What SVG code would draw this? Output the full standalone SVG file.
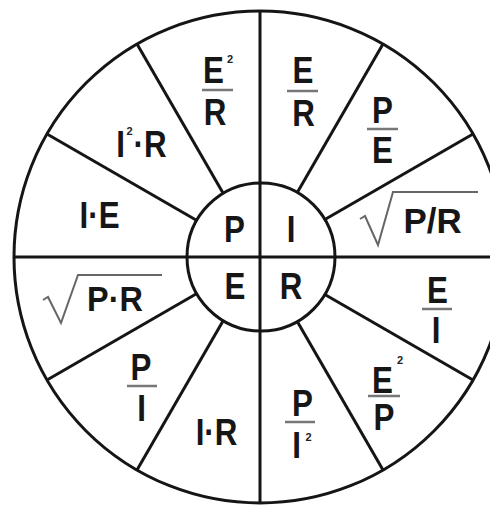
<svg xmlns="http://www.w3.org/2000/svg" width="490" height="506" viewBox="0 0 490 506">
<style>
.ln{stroke:#151515;stroke-width:3;fill:none}
.t{font-family:"Liberation Sans",Arial,sans-serif;font-weight:bold;font-size:36px;fill:#161616;text-anchor:middle}
.s{font-family:"Liberation Sans",Arial,sans-serif;font-weight:bold;font-size:11px;fill:#222;text-anchor:middle}
.bar{stroke:#777;stroke-width:2.5}
.rad{stroke:#666;stroke-width:2;fill:none}
</style>
<rect width="490" height="506" fill="#fff"/>
<g id="connectors">
<circle class="ln" cx="260" cy="257" r="246"/>
<circle class="ln" cx="261" cy="257" r="74"/>
<line class="ln" x1="260" y1="11" x2="260" y2="503"/>
<line class="ln" x1="14" y1="257" x2="490" y2="257"/>
<line class="ln" x1="297" y1="193" x2="383" y2="44"/>
<line class="ln" x1="324" y1="220" x2="473" y2="134"/>
<line class="ln" x1="324" y1="294" x2="473" y2="380"/>
<line class="ln" x1="297" y1="321" x2="383" y2="470"/>
<line class="ln" x1="223" y1="321" x2="137" y2="470"/>
<line class="ln" x1="196" y1="294" x2="47" y2="380"/>
<line class="ln" x1="196" y1="220" x2="47" y2="134"/>
<line class="ln" x1="223" y1="193" x2="137" y2="44"/>
</g>
<g id="center-P"><text class="t" transform="translate(234.5,242) scale(.87,1)">P</text></g>
<g id="center-I"><text class="t" transform="translate(291,242) scale(.87,1)">I</text></g>
<g id="center-E"><text class="t" transform="translate(235,299) scale(.87,1)">E</text></g>
<g id="center-R"><text class="t" transform="translate(291,299) scale(.87,1)">R</text></g>
<g id="E2-over-R">
<text class="t" transform="translate(213.5,83) scale(.87,1)">E</text>
<text class="s" x="230" y="63">2</text>
<line class="bar" x1="202" y1="90" x2="233" y2="90"/>
<text class="t" transform="translate(215,125) scale(.87,1)">R</text>
</g>
<g id="I2-R">
<text class="t" transform="translate(120.5,157) scale(.87,1)">I</text>
<text class="s" x="129.5" y="135">2</text>
<text class="t" transform="translate(150,157) scale(.87,1)">·R</text>
</g>
<g id="I-E"><text class="t" transform="translate(99.5,228) scale(.87,1)">I·E</text></g>
<g id="E-over-R">
<text class="t" transform="translate(303,83) scale(.87,1)">E</text>
<line class="bar" x1="287" y1="91" x2="318" y2="91"/>
<text class="t" transform="translate(303.5,126) scale(.87,1)">R</text>
</g>
<g id="P-over-E">
<text class="t" transform="translate(382.5,123) scale(.87,1)">P</text>
<line class="bar" x1="367" y1="129" x2="398" y2="129"/>
<text class="t" transform="translate(382.5,163) scale(.87,1)">E</text>
</g>
<g id="sqrt-P-R">
<polyline class="rad" points="360,219 365,216 378,245 393,192 478,192"/>
<text class="t" transform="translate(432.5,233) scale(.97,1)">P/R</text>
</g>
<g id="sqrt-PR">
<polyline class="rad" points="43,300 48,297 61,323 78,275 162,275"/>
<text class="t" transform="translate(115,311) scale(.9,1)">P·R</text>
</g>
<g id="P-over-I">
<text class="t" transform="translate(141,380) scale(.87,1)">P</text>
<line class="bar" x1="127" y1="386" x2="157" y2="386"/>
<text class="t" transform="translate(141.5,421) scale(.87,1)">I</text>
</g>
<g id="I-R"><text class="t" transform="translate(216.5,445) scale(.87,1)">I·R</text></g>
<g id="P-over-I2">
<text class="t" transform="translate(302.5,416) scale(.87,1)">P</text>
<line class="bar" x1="285" y1="422" x2="315" y2="422"/>
<text class="t" transform="translate(296.5,458) scale(.87,1)">I</text>
<text class="s" x="308.5" y="441">2</text>
</g>
<g id="E2-over-P">
<text class="t" transform="translate(382.5,393) scale(.87,1)">E</text>
<text class="s" x="400" y="364">2</text>
<line class="bar" x1="368" y1="396" x2="400" y2="396"/>
<text class="t" transform="translate(384,430) scale(.87,1)">P</text>
</g>
<g id="E-over-I">
<text class="t" transform="translate(437.5,303) scale(.87,1)">E</text>
<line class="bar" x1="422" y1="309" x2="452" y2="309"/>
<text class="t" transform="translate(436,343) scale(.87,1)">I</text>
</g>
</svg>
